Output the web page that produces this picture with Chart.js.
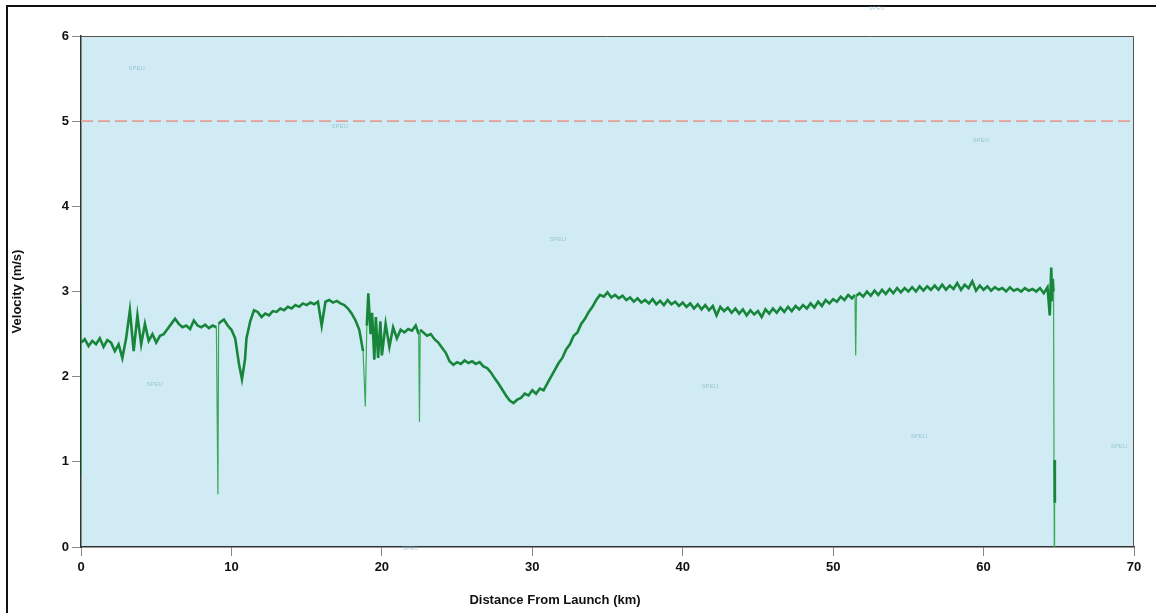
<!DOCTYPE html>
<html>
<head>
<meta charset="utf-8">
<script src="https://cdn.jsdelivr.net/npm/chart.js@4.4.1/dist/chart.umd.min.js"></script>
<style>
  html, body { margin: 0; padding: 0; background: #fff; }
  #wrap { position: relative; width: 1156px; height: 613px; overflow: hidden; }
  #frame { position: absolute; left: 6px; top: 5px; right: -4px; bottom: -4px;
           border-top: 2px solid #111; border-left: 2px solid #111; }
  #xTitle { position: absolute; left: 0; width: 1110px; top: 592px; text-align: center;
            font: bold 13px "Liberation Sans", Arial, sans-serif; color: #111; }
  canvas { position: absolute; left: 0; top: 0; }
</style>
</head>
<body>
<div id="wrap">
  <div id="frame"></div>
  <canvas id="velocityChart" width="1156" height="613"></canvas>
  <div id="xTitle">Distance From Launch (km)</div>
</div>
<script>
// velocity trace (one row ≈ one km)
const distanceKm = [
  0, 0, 0.02, 0.25, 0.5, 0.75,
  1, 1.25, 1.5, 1.75,
  2, 2.25, 2.5, 2.75,
  3, 3.25, 3.5, 3.75,
  4, 4.25, 4.5, 4.75,
  5, 5.25, 5.5, 5.75,
  6, 6.25, 6.5, 6.75,
  7, 7.25, 7.5, 7.75,
  8, 8.25, 8.5, 8.75,
  9, 9.1, 9.15, 9.25, 9.5, 9.75,
  10, 10.25, 10.5, 10.7, 10.9,
  11, 11.25, 11.5, 11.75,
  12, 12.25, 12.5, 12.75,
  13, 13.25, 13.5, 13.75,
  14, 14.25, 14.5, 14.75,
  15, 15.25, 15.5, 15.75,
  16, 16.25, 16.5, 16.75,
  17, 17.25, 17.5, 17.75,
  18, 18.25, 18.5, 18.75, 18.9,
  19, 19.1, 19.25, 19.35, 19.5, 19.6, 19.75, 19.9,
  20, 20.25, 20.5, 20.75,
  21, 21.25, 21.5, 21.75,
  22, 22.25, 22.45, 22.5, 22.55, 22.75,
  23, 23.25, 23.5, 23.75,
  24, 24.25, 24.5, 24.75,
  25, 25.25, 25.5, 25.75,
  26, 26.25, 26.5, 26.75,
  27, 27.25, 27.5, 27.75,
  28, 28.25, 28.5, 28.75,
  29, 29.25, 29.5, 29.75,
  30, 30.25, 30.5, 30.75,
  31, 31.25, 31.5, 31.75,
  32, 32.25, 32.5, 32.75,
  33, 33.25, 33.5, 33.75,
  34, 34.25, 34.5, 34.75,
  35, 35.25, 35.5, 35.75,
  36, 36.25, 36.5, 36.75,
  37, 37.25, 37.5, 37.75,
  38, 38.25, 38.5, 38.75,
  39, 39.25, 39.5, 39.75,
  40, 40.25, 40.5, 40.75,
  41, 41.25, 41.5, 41.75,
  42, 42.25, 42.5, 42.75,
  43, 43.25, 43.5, 43.75,
  44, 44.25, 44.5, 44.75,
  45, 45.25, 45.5, 45.75,
  46, 46.25, 46.5, 46.75,
  47, 47.25, 47.5, 47.75,
  48, 48.25, 48.5, 48.75,
  49, 49.25, 49.5, 49.75,
  50, 50.25, 50.5, 50.75,
  51, 51.25, 51.45, 51.5, 51.55, 51.75,
  52, 52.25, 52.5, 52.75,
  53, 53.25, 53.5, 53.75,
  54, 54.25, 54.5, 54.75,
  55, 55.25, 55.5, 55.75,
  56, 56.25, 56.5, 56.75,
  57, 57.25, 57.5, 57.75,
  58, 58.25, 58.5, 58.75,
  59, 59.25, 59.5, 59.75,
  60, 60.25, 60.5, 60.75,
  61, 61.25, 61.5, 61.75,
  62, 62.25, 62.5, 62.75,
  63, 63.25, 63.5, 63.75,
  64, 64.25, 64.4, 64.5, 64.55, 64.6, 64.65, 64.7, 64.72, 64.74
];

const velocityMs = [
  2.85, 0.85, 2.40, 2.44, 2.36, 2.42,
  2.38, 2.45, 2.35, 2.43,
  2.40, 2.30, 2.38, 2.22,
  2.45, 2.78, 2.30, 2.72,
  2.38, 2.62, 2.42, 2.50,
  2.40, 2.48, 2.50, 2.56,
  2.62, 2.68, 2.62, 2.58,
  2.60, 2.56, 2.66, 2.60,
  2.58, 2.61, 2.57, 2.60,
  2.58, 0.62, 2.62, 2.64, 2.67, 2.60,
  2.55, 2.45, 2.15, 1.97, 2.20,
  2.45, 2.65, 2.78, 2.76,
  2.70, 2.74, 2.72, 2.77,
  2.76, 2.80, 2.78, 2.82,
  2.80, 2.84, 2.82, 2.86,
  2.84, 2.87, 2.85, 2.88,
  2.60, 2.88, 2.90, 2.87,
  2.89, 2.86, 2.84, 2.80,
  2.74, 2.66, 2.55, 2.30, 1.65,
  2.60, 2.98, 2.50, 2.75, 2.20, 2.70, 2.22, 2.65,
  2.25, 2.62, 2.35, 2.58,
  2.45, 2.55, 2.52, 2.56,
  2.54, 2.60, 2.50, 1.47, 2.55, 2.52,
  2.48, 2.50, 2.44, 2.40,
  2.34, 2.28, 2.18, 2.14,
  2.17, 2.15, 2.19, 2.16,
  2.18, 2.15, 2.17, 2.12,
  2.10, 2.05, 1.98, 1.92,
  1.85, 1.78, 1.72, 1.69,
  1.73, 1.75, 1.80, 1.78,
  1.84, 1.80, 1.86, 1.84,
  1.92, 2.00, 2.08, 2.16,
  2.22, 2.32, 2.38, 2.48,
  2.52, 2.62, 2.68, 2.76,
  2.82, 2.90, 2.96, 2.94,
  2.99, 2.93, 2.96, 2.92,
  2.95, 2.90, 2.93, 2.88,
  2.92, 2.87, 2.90, 2.86,
  2.91, 2.85, 2.89, 2.84,
  2.90, 2.85, 2.88, 2.83,
  2.87, 2.82, 2.86, 2.80,
  2.85, 2.79, 2.84, 2.78,
  2.83, 2.72, 2.82, 2.77,
  2.81, 2.75, 2.80, 2.74,
  2.79, 2.72, 2.78, 2.73,
  2.77, 2.70, 2.79, 2.74,
  2.80, 2.75, 2.81, 2.76,
  2.82, 2.77, 2.83, 2.79,
  2.84, 2.80, 2.86, 2.81,
  2.88, 2.83, 2.90, 2.86,
  2.91, 2.88, 2.94, 2.90,
  2.96, 2.92, 2.96, 2.25, 2.95, 2.98,
  2.94, 3.00, 2.95, 3.01,
  2.96, 3.02, 2.97, 3.03,
  2.98, 3.04, 2.99, 3.04,
  3.00, 3.05, 3.00, 3.06,
  3.01, 3.06, 3.02, 3.07,
  3.02, 3.08, 3.02, 3.07,
  3.03, 3.10, 3.02, 3.08,
  3.04, 3.12, 3.01, 3.07,
  3.02, 3.06, 3.01, 3.05,
  3.02, 3.04, 3.00, 3.05,
  3.01, 3.03, 3.00, 3.04,
  3.01, 3.03, 3.00, 3.04,
  2.98, 3.05, 2.72, 3.28, 2.90, 3.15, 3.00, 0, 1.02, 0.52
];

if (distanceKm.length !== velocityMs.length) {
  console.warn('length mismatch', distanceKm.length, velocityMs.length);
}

const limitVelocity = 5;          // dashed reference line
const xTicks = [0, 10, 20, 30, 40, 50, 60, 70];
const yTicks = [0, 1, 2, 3, 4, 5, 6];

// faint "SPEU" stamps scattered over the scan (km, m/s)
const stampKm = [3.7, 17.2, 31.7, 4.9, 41.8, 55.7, 59.8, 69.0, 21.9, 52.9];
const stampVel = [5.6, 4.92, 3.59, 1.89, 1.87, 1.28, 4.75, 1.16, -0.04, 6.3];

const traceData = distanceKm.map((d, i) => ({ x: d, y: velocityMs[i] }));

// long drops/jumps are drawn thin, the rest of the trace thick (noisy band)
const isSpike = (ctx) => Math.abs(ctx.p1.y - ctx.p0.y) > 50;

// plot background + border, and the stamps
const plotDecor = {
  id: 'plotDecor',
  beforeDraw(chart) {
    const { ctx, chartArea: a } = chart;
    ctx.save();
    ctx.fillStyle = '#d0ebf3';
    ctx.fillRect(a.left, a.top, a.right - a.left, a.bottom - a.top);
    ctx.restore();
  },
  afterDraw(chart) {
    const { ctx, chartArea: a, scales } = chart;
    ctx.save();
    ctx.strokeStyle = '#555';
    ctx.lineWidth = 1;
    ctx.beginPath();
    ctx.moveTo(a.left, a.top + 0.5);
    ctx.lineTo(a.right - 0.5, a.top + 0.5);
    ctx.lineTo(a.right - 0.5, a.bottom);
    ctx.stroke();
    ctx.font = '6px "Liberation Sans", Arial, sans-serif';
    ctx.fillStyle = 'rgba(110,170,185,0.55)';
    ctx.textAlign = 'center';
    stampKm.forEach((k, i) => {
      ctx.fillText('SPEU', scales.x.getPixelForValue(k), scales.y.getPixelForValue(stampVel[i]));
    });
    ctx.restore();
  }
};

const tickFont = { family: '"Liberation Sans", Arial, sans-serif', size: 13, weight: 'bold' };

new Chart(document.getElementById('velocityChart'), {
  type: 'line',
  data: {
    datasets: [
      {
        label: 'Limit',
        data: [{ x: 0, y: limitVelocity }, { x: 70, y: limitVelocity }],
        borderColor: '#e2a198',
        borderWidth: 1.6,
        borderDash: [12, 5],
        pointRadius: 0,
      },
      {
        label: 'Velocity',
        data: traceData,
        borderColor: '#17863a',
        borderWidth: 2.6,
        pointRadius: 0,
        tension: 0,
        segment: {
          borderWidth: (ctx) => (isSpike(ctx) ? 1.2 : undefined),
          borderColor: (ctx) => (isSpike(ctx) ? '#3aa858' : undefined),
        },
      },
    ],
  },
  options: {
    responsive: false,
    animation: false,
    layout: { padding: { top: 36, right: 22, left: 0, bottom: 0 } },
    plugins: { legend: { display: false }, tooltip: { enabled: false } },
    scales: {
      x: {
        type: 'linear',
        min: 0,
        max: 70,
        afterFit: (s) => { s.height = 66; },
        afterBuildTicks: (s) => { s.ticks = xTicks.map((v) => ({ value: v })); },
        border: { color: '#333', width: 1.5 },
        grid: { drawOnChartArea: false, tickLength: 9, color: '#888' },
        ticks: { color: '#111', font: tickFont, padding: 4, maxRotation: 0 },
      },
      y: {
        min: 0,
        max: 6,
        afterFit: (s) => { s.width = 81; },
        afterBuildTicks: (s) => { s.ticks = yTicks.map((v) => ({ value: v })); },
        border: { color: '#333', width: 1.5 },
        grid: { drawOnChartArea: false, tickLength: 9, color: '#888' },
        ticks: { color: '#111', font: tickFont, padding: 3 },
        title: {
          display: true,
          text: 'Velocity (m/s)',
          color: '#111',
          font: { family: '"Liberation Sans", Arial, sans-serif', size: 13, weight: 'bold' },
          padding: { top: 10, bottom: 0 },
        },
      },
    },
  },
  plugins: [plotDecor],
});
</script>
</body>
</html>
